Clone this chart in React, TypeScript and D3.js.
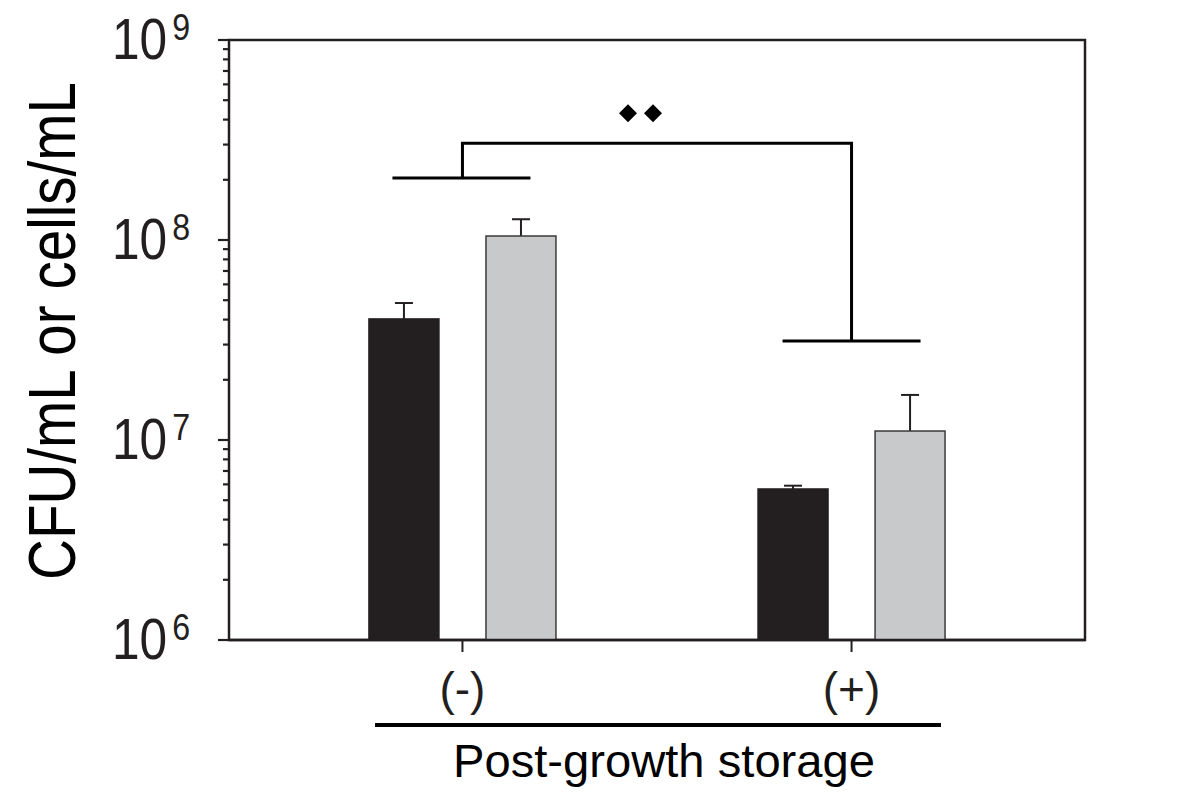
import React, { useEffect, useRef } from "react";
import * as d3 from "d3";

const categories = ["(-)", "(+)"];
const seriesNames = ["CFU/mL", "cells/mL"];
const seriesColors = ["#231f20", "#c8c9cb"];
const blackValues = [4.03e7, 5.69e6];
const blackErrTop = [4.84e7, 5.91e6];
const grayValues = [1.047e8, 1.109e7];
const grayErrTop = [1.27e8, 1.68e7];
const yTickExponents = [6, 7, 8, 9];
const bracketLeftLevel = 2.04e8;
const bracketTopLevel = 3.05e8;
const bracketRightLevel = 3.13e7;
const diamondLevel = 4.3e8;

const W = 1200;
const H = 798;
const L = 229, R = 1085, T = 40, B = 640;
const FONT = "'Liberation Sans', Arial, sans-serif";
const INK = "#231f20";

export default function App() {
  const ref = useRef<SVGSVGElement | null>(null);

  useEffect(() => {
    const svg = d3.select(ref.current);
    svg.selectAll("*").remove();

    const y = d3.scaleLog().domain([1e6, 1e9]).range([B, T]);
    const x = d3.scalePoint<string>().domain(categories).range([L, R]).padding(0.6);
    const sub = d3.scaleBand<string>().domain(seriesNames).range([-93.5, 93.5]).paddingInner(0.402).paddingOuter(0);

    const g = svg.append("g");

    // frame
    g.append("rect").attr("x", L).attr("y", T).attr("width", R - L).attr("height", B - T)
      .attr("fill", "none").attr("stroke", INK).attr("stroke-width", 2.5);

    // y ticks (log minor/major)
    const ticks = y.ticks();
    ticks.forEach((t) => {
      const isMajor = Math.abs(Math.log10(t) - Math.round(Math.log10(t))) < 1e-9;
      g.append("line").attr("x1", L - (isMajor ? 11 : 6)).attr("x2", L)
        .attr("y1", y(t)).attr("y2", y(t)).attr("stroke", INK).attr("stroke-width", 2.2);
    });

    // y tick labels: 10 with superscript exponent
    yTickExponents.forEach((e) => {
      const yy = y(Math.pow(10, e));
      const t = g.append("text")
        .attr("transform", `translate(112,${yy + 19}) scale(0.87,1)`)
        .attr("font-family", FONT).attr("fill", INK);
      t.append("tspan").attr("font-size", 57).text("10");
      t.append("tspan").attr("font-size", 37).attr("dx", 6).attr("dy", -19).text(String(e));
    });

    // x ticks
    categories.forEach((c) => {
      g.append("line").attr("x1", x(c)!).attr("x2", x(c)!).attr("y1", B).attr("y2", B + 12)
        .attr("stroke", INK).attr("stroke-width", 2);
      g.append("text").attr("x", x(c)!).attr("y", 705).attr("text-anchor", "middle")
        .attr("font-family", FONT).attr("font-size", 46).attr("fill", INK).text(c);
    });

    // bars
    const seriesVals = [blackValues, grayValues];
    const seriesErr = [blackErrTop, grayErrTop];
    seriesNames.forEach((s, si) => {
      categories.forEach((c, ci) => {
        const x0 = x(c)! + sub(s)!;
        const bw = sub.bandwidth();
        const v = seriesVals[si][ci];
        const cx = x0 + bw / 2;
        g.append("line").attr("x1", cx).attr("x2", cx).attr("y1", y(v)).attr("y2", y(seriesErr[si][ci]))
          .attr("stroke", INK).attr("stroke-width", 2);
        g.append("line").attr("x1", cx - 9).attr("x2", cx + 9).attr("y1", y(seriesErr[si][ci])).attr("y2", y(seriesErr[si][ci]))
          .attr("stroke", INK).attr("stroke-width", 2);
        g.append("rect").attr("x", x0).attr("y", y(v)).attr("width", bw).attr("height", B - y(v))
          .attr("fill", seriesColors[si]).attr("stroke", si === 0 ? seriesColors[0] : "#3a3a3a")
          .attr("stroke-width", 1.5);
      });
    });

    g.append("line").attr("x1", L).attr("x2", R).attr("y1", B).attr("y2", B)
      .attr("stroke", INK).attr("stroke-width", 2.5);

    // significance bracket
    const c0 = x(categories[0])!;
    const c1 = x(categories[1])!;
    const bl = (p: string) => g.append("path").attr("d", p).attr("fill", "none")
      .attr("stroke", "#000").attr("stroke-width", 3);
    bl(`M${c0 - 70},${y(bracketLeftLevel)}H${c0 + 68}`);
    bl(`M${c1 - 69},${y(bracketRightLevel)}H${c1 + 69}`);
    bl(`M${c0},${y(bracketLeftLevel)}V${y(bracketTopLevel)}H${c1}V${y(bracketRightLevel)}`);

    const dm = (c0 + c1) / 2 - 16.5;
    [dm - 12.5, dm + 12.5].forEach((dx) => {
      g.append("path").attr("d", d3.symbol().type(d3.symbolSquare).size(162)()!)
        .attr("transform", `translate(${dx},${y(diamondLevel)}) rotate(45)`).attr("fill", "#000");
    });

    // y-axis title
    g.append("text").attr("transform", `translate(75,331) rotate(-90)`).attr("text-anchor", "middle")
      .attr("font-family", FONT).attr("font-size", 66).attr("textLength", 498).attr("lengthAdjust", "spacingAndGlyphs")
      .attr("fill", "#000").text("CFU/mL or cells/mL");

    // grouping line and label
    g.append("line").attr("x1", 375).attr("x2", 941).attr("y1", 725).attr("y2", 725)
      .attr("stroke", "#000").attr("stroke-width", 4);
    g.append("text").attr("x", 664).attr("y", 777).attr("text-anchor", "middle")
      .attr("font-family", FONT).attr("font-size", 46).attr("textLength", 422).attr("lengthAdjust", "spacingAndGlyphs")
      .attr("fill", "#000").text("Post-growth storage");
  }, []);

  return (
    <svg ref={ref} width={W} height={H} style={{ position: "absolute", left: 0, top: 0, background: "#fff" }} />
  );
}
